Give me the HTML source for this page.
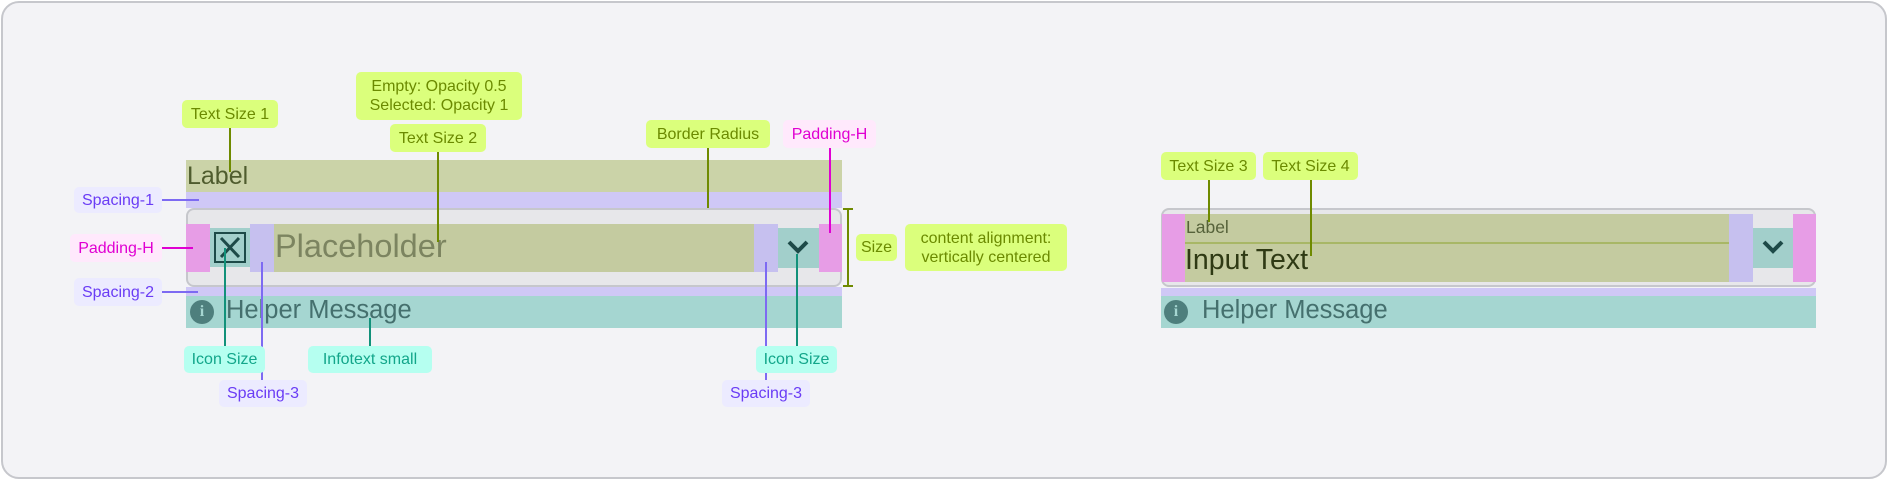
<!DOCTYPE html>
<html><head><meta charset="utf-8"><style>
*{margin:0;padding:0;box-sizing:border-box}
body{width:1888px;height:480px;background:#fff;position:relative;overflow:hidden;font-family:"Liberation Sans","DejaVu Sans",sans-serif}
.a{position:absolute}
.frame{left:1px;top:1px;width:1886px;height:478px;border:2px solid #c6c7cc;border-radius:18px;background:#f3f3f6}
.chip{position:absolute;border-radius:5px;font-size:16px;display:flex;align-items:center;justify-content:center;line-height:19px;text-align:center;white-space:nowrap}
.g{background:#dbff7c;color:#6b8a00}
.l{background:#ecebff;color:#6a3cf5}
.p{background:#ffe9fc;color:#e000d2}
.c{background:#b5fff0;color:#12a68a}
.vl{position:absolute;width:2px}
.hl{position:absolute;height:2px}
</style></head><body>
<div class="a frame"></div>

<div class="a" style="left:186px;top:160px;width:656px;height:32px;background:#cbd3a8"></div>
<div class="a" style="left:187px;top:162px;font-size:25px;color:#4f5c2e">Label</div>
<div class="a" style="left:186px;top:192px;width:656px;height:16px;background:#cfc8f6"></div>
<div class="a" style="left:186px;top:208px;width:656px;height:79px;background:#e7e7ea;border:2px solid #c6c7cc;border-radius:8px"></div>
<div class="a" style="left:186px;top:224px;width:24px;height:48px;background:#e79de6"></div>
<div class="a" style="left:210px;top:228px;width:40px;height:39px;background:#a2cfcb"></div>
<div class="a" style="left:214px;top:232px;width:32px;height:31px;border:2px solid #1d4a48;background:#a2cfcb"></div>
<svg class="a" style="left:214px;top:232px" width="32" height="31"><path d="M7 6 L25 25 M25 6 L7 25" stroke="#1d4a48" stroke-width="3"/></svg>
<div class="a" style="left:250px;top:224px;width:24px;height:48px;background:#c6c0ef"></div>
<div class="a" style="left:274px;top:224px;width:480px;height:48px;background:#c4cba0"></div>
<div class="a" style="left:275px;top:228px;font-size:32.5px;color:#7c8460">Placeholder</div>
<div class="a" style="left:754px;top:224px;width:24px;height:48px;background:#c6c0ef"></div>
<div class="a" style="left:778px;top:228px;width:41px;height:40px;background:#a2cfcb"></div>
<svg class="a" style="left:785px;top:238px" width="26" height="18"><path d="M4 4 L13 13 L22 4" stroke="#1d4a48" stroke-width="4" fill="none"/></svg>
<div class="a" style="left:819px;top:224px;width:23px;height:48px;background:#e79de6"></div>
<div class="a" style="left:186px;top:287px;width:656px;height:9px;background:#cfc8f6"></div>
<div class="a" style="left:186px;top:296px;width:656px;height:32px;background:#a5d6d1"></div>
<div class="a" style="left:190px;top:300px;width:24px;height:24px;border-radius:50%;background:#4e7f7d;color:#a5d6d1;font-size:16px;font-weight:bold;text-align:center;line-height:23px;font-family:'Liberation Serif',serif">i</div>
<div class="a" style="left:226px;top:296px;font-size:25.5px;color:#45706e">Helper Message</div>

<div class="vl" style="left:847px;top:208px;height:79px;background:#6f8a00"></div>
<div class="hl" style="left:843px;top:208px;width:10px;background:#6f8a00"></div>
<div class="hl" style="left:843px;top:285px;width:10px;background:#6f8a00"></div>

<div class="vl" style="left:229px;top:128px;height:44px;background:#6f8a00"></div>
<div class="vl" style="left:437px;top:152px;height:90px;background:#6f8a00"></div>
<div class="vl" style="left:707px;top:148px;height:60px;background:#6f8a00"></div>
<div class="vl" style="left:829px;top:148px;height:85px;background:#e000d2"></div>
<div class="hl" style="left:162px;top:199px;width:37px;background:#7d6af2"></div>
<div class="hl" style="left:162px;top:247px;width:31px;background:#e000d2"></div>
<div class="hl" style="left:162px;top:291px;width:36px;background:#7d6af2"></div>
<div class="vl" style="left:224px;top:248px;height:98px;background:#12917a"></div>
<div class="vl" style="left:261px;top:262px;height:119px;background:#7d6af2"></div>
<div class="vl" style="left:369px;top:318px;height:28px;background:#12917a"></div>
<div class="vl" style="left:765px;top:262px;height:119px;background:#7d6af2"></div>
<div class="vl" style="left:796px;top:254px;height:92px;background:#12917a"></div>

<div class="chip g" style="left:182px;top:100px;width:96px;height:28px">Text Size 1</div>
<div class="chip g" style="left:356px;top:72px;width:166px;height:48px">Empty: Opacity 0.5<br>Selected: Opacity 1</div>
<div class="chip g" style="left:390px;top:124px;width:96px;height:28px">Text Size 2</div>
<div class="chip g" style="left:646px;top:120px;width:124px;height:28px">Border Radius</div>
<div class="chip p" style="left:783px;top:120px;width:93px;height:28px">Padding-H</div>
<div class="chip l" style="left:74px;top:187px;width:88px;height:26px">Spacing-1</div>
<div class="chip p" style="left:70px;top:234px;width:92px;height:28px">Padding-H</div>
<div class="chip l" style="left:74px;top:278px;width:88px;height:28px">Spacing-2</div>
<div class="chip g" style="left:856px;top:234px;width:41px;height:27px">Size</div>
<div class="chip g" style="left:905px;top:224px;width:162px;height:47px">content alignment:<br>vertically centered</div>
<div class="chip c" style="left:184px;top:346px;width:81px;height:27px">Icon Size</div>
<div class="chip c" style="left:308px;top:346px;width:124px;height:27px">Infotext small</div>
<div class="chip l" style="left:219px;top:380px;width:88px;height:27px">Spacing-3</div>
<div class="chip c" style="left:756px;top:346px;width:81px;height:27px">Icon Size</div>
<div class="chip l" style="left:722px;top:380px;width:88px;height:27px">Spacing-3</div>

<div class="a" style="left:1161px;top:208px;width:655px;height:79px;background:#e7e7ea;border:2px solid #c6c7cc;border-radius:8px"></div>
<div class="a" style="left:1162px;top:214px;width:23px;height:68px;background:#e79de6"></div>
<div class="a" style="left:1185px;top:214px;width:544px;height:68px;background:#c4cba0"></div>
<div class="a" style="left:1185px;top:242px;width:544px;height:2px;background:#a8b766"></div>
<div class="a" style="left:1186px;top:217px;font-size:17.5px;color:#56623a">Label</div>
<div class="a" style="left:1185px;top:244px;font-size:28.5px;color:#2f3a14">Input Text</div>
<div class="a" style="left:1729px;top:214px;width:24px;height:68px;background:#c6c0ef"></div>
<div class="a" style="left:1753px;top:228px;width:40px;height:40px;background:#a2cfcb"></div>
<svg class="a" style="left:1760px;top:238px" width="26" height="18"><path d="M4 4 L13 13 L22 4" stroke="#1d4a48" stroke-width="4" fill="none"/></svg>
<div class="a" style="left:1793px;top:214px;width:23px;height:68px;background:#e79de6"></div>
<div class="a" style="left:1161px;top:288px;width:655px;height:8px;background:#cfc8f6"></div>
<div class="a" style="left:1161px;top:296px;width:655px;height:32px;background:#a5d6d1"></div>
<div class="a" style="left:1164px;top:300px;width:24px;height:24px;border-radius:50%;background:#4e7f7d;color:#a5d6d1;font-size:16px;font-weight:bold;text-align:center;line-height:23px;font-family:'Liberation Serif',serif">i</div>
<div class="a" style="left:1202px;top:296px;font-size:25.5px;color:#45706e">Helper Message</div>
<div class="vl" style="left:1208px;top:180px;height:42px;background:#6f8a00"></div>
<div class="vl" style="left:1310px;top:180px;height:76px;background:#6f8a00"></div>
<div class="chip g" style="left:1161px;top:152px;width:95px;height:28px">Text Size 3</div>
<div class="chip g" style="left:1263px;top:152px;width:95px;height:28px">Text Size 4</div>
</body></html>
